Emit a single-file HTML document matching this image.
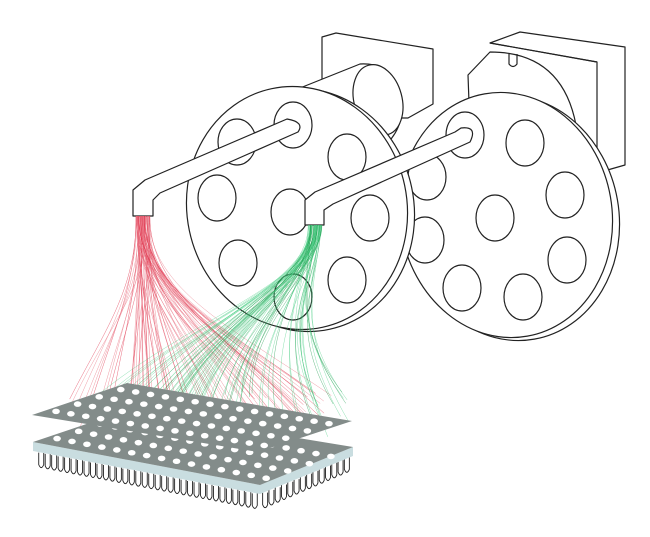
<!DOCTYPE html>
<html><head><meta charset="utf-8"><style>html,body{margin:0;padding:0;background:#fff}svg{display:block}</style></head>
<body>
<svg id="s" width="650" height="537" viewBox="0 0 650 537" xmlns="http://www.w3.org/2000/svg">
<g fill="#fff" stroke="#222" stroke-width="1.2" stroke-linejoin="round">
  <polygon points="322,37 336,33 433,49 433,104 408,118 385,118 322,90"/>
  <path d="M300,88 L360,64 Q395,62 402,100 Q405,130 380,150 L330,170 Z"/>
  <ellipse cx="378" cy="100" rx="24" ry="36" transform="rotate(-15 378 100)"/>
  <polygon points="490,43 520,32 625,47 625,165 597,173 597,62"/>
  <line x1="490" y1="43" x2="597" y2="62"/>
  <path d="M490,52 Q562,52 576,125 L577,180 L470,130 L468,75 Z"/>
  <path d="M509,54 L509,64 Q513,69 517,64 L517,54" fill="none"/>
  <ellipse cx="513" cy="218" rx="106" ry="123" transform="rotate(-10 513 218)"/>
  <ellipse cx="506" cy="215" rx="106" ry="123" transform="rotate(-10 506 215)"/>
  <g id="rh"></g>
  <ellipse cx="304" cy="210" rx="110" ry="122" transform="rotate(-12 304 210)"/>
  <ellipse cx="297" cy="208" rx="110" ry="122" transform="rotate(-12 297 208)"/>
  <g id="lh"></g>
  <path d="M287,119 Q305,122 298,132 L160,193 L153,200 L153,216 L133,216 L133,190 L145,180 Z"/>
  <path d="M461,128 Q478,126 470,142 L333,204 L324,210 L324,225 L305,225 L305,200 L315,192 L455,132 Z"/>
</g>
<g id="spray" fill="none" stroke-width="0.5"></g>
<g id="plates"></g>
</svg>
<script>
const NS="http://www.w3.org/2000/svg";
function el(p,t,a){const e=document.createElementNS(NS,t);for(const k in a)e.setAttribute(k,a[k]);p.appendChild(e);return e;}
const lh=document.getElementById('lh'),rh=document.getElementById('rh');
[[237,142],[293,125],[347,157],[217,198],[290,212],[370,218],[238,263],[347,280],[293,297]].forEach(h=>el(lh,'ellipse',{cx:h[0],cy:h[1],rx:19,ry:23}));
[[465,135],[525,143],[565,195],[495,218],[567,260],[523,297],[462,288],[425,240],[427,177]].forEach(h=>el(rh,'ellipse',{cx:h[0],cy:h[1],rx:19,ry:23}));
const sp=document.getElementById('spray');
function rnd(i){const x=Math.sin(i*12.9898)*43758.5453;return x-Math.floor(x);}
for(let i=0;i<80;i++){const sx=136+rnd(i)*14, ex=38+rnd(i+300)*300, ey=392+rnd(i+600)*45;
 const c=i%3==0?'#e0304a':'#e87080';
 el(sp,'path',{d:`M${sx},216 C${sx},290 ${ex*0.5+70},330 ${ex},${ey}`,stroke:c,opacity:0.7});}
for(let i=0;i<80;i++){const sx=308+rnd(i+900)*14, ex=90+rnd(i+1200)*260, ey=392+rnd(i+1500)*45;
 const c=i%3==0?'#1a9a4a':'#50d088';
 el(sp,'path',{d:`M${sx},225 C${sx},280 ${ex*0.4+150},320 ${ex},${ey}`,stroke:c,opacity:0.65});}
const pl=document.getElementById('plates');
function plate(L,B,R,F,th,rows,cols){
 if(th){el(pl,'polygon',{points:`${L[0]},${L[1]} ${F[0]},${F[1]} ${R[0]},${R[1]} ${R[0]},${R[1]+th} ${F[0]},${F[1]+th} ${L[0]},${L[1]+th}`,fill:'#c9dde0'});}
 el(pl,'polygon',{points:`${L[0]},${L[1]} ${B[0]},${B[1]} ${R[0]},${R[1]} ${F[0]},${F[1]}`,fill:'#838c8a'});
 for(let u=0;u<rows;u++)for(let v=0;v<cols;v++){const a=(u+0.7)/(rows+0.4),b=(v+0.6)/(cols+0.2);
  const x=L[0]+a*(B[0]-L[0])+b*(F[0]-L[0]),y=L[1]+a*(B[1]-L[1])+b*(F[1]-L[1]);
  el(pl,'ellipse',{cx:x,cy:y,rx:3.8,ry:2.8,fill:'#fff'});}
}
function pins(P,Q,n){for(let i=0;i<n;i++){const t=(i+0.5)/n,x=P[0]+t*(Q[0]-P[0]),y=P[1]+t*(Q[1]-P[1]);
 el(pl,'path',{d:`M${x-2.5},${y} L${x-2.5},${y+12} Q${x},${y+18} ${x+2.5},${y+12} L${x+2.5},${y}`,fill:'none',stroke:'#222','stroke-width':0.9});}}
pins([38,452],[258,494],34);pins([262,494],[350,456],14);
plate([33,442],[128,410],[353,447],[260,485],9,4,15);
plate([32,415],[127,383],[352,421],[258,452],0,4,15);
</script>
</body></html>
